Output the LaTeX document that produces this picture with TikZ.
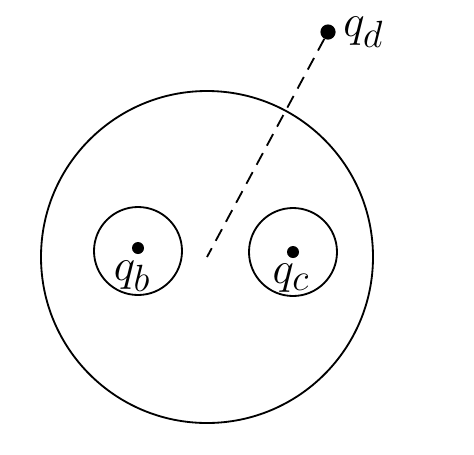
\documentclass[tikz,border=0pt]{standalone}
\usetikzlibrary{positioning}
\newcommand{\qlabel}[1]{\scalebox{1.3}{$#1$}}
\begin{document}
\begin{tikzpicture}[
    x=0.25mm, y=-0.25mm,
    shell/.style={circle, draw=black, line width=1.3pt, inner sep=0pt},
    charge/.style={circle, fill=black, inner sep=0pt, minimum size=3mm},
    chargelabel/.style={inner sep=0pt, font=\Huge},
]
    \useasboundingbox (0,0) rectangle (474,454);

    %Nodes
    \node[shell, minimum size=83mm] (outer) at (207,257) {};
    \node[shell, minimum size=22mm] (cavb) at (138,251) {};
    \node[shell, minimum size=22mm] (cavc) at (293,252) {};
    \node[charge] (qb) at (138,248) {};
    \node[charge] (qc) at (293,252) {};
    \node[charge, minimum size=3.8mm] (qd) at (328,32) {};
    \node[chargelabel, below=1.6mm of qb, xshift=-1.5mm] (lb) {\qlabel{q_b}};
    \node[chargelabel, below=1.4mm of qc, xshift=-0.5mm] (lc) {\qlabel{q_c}};
    \node[chargelabel, right=1.8mm of qd] (ld) {\qlabel{q_d}};

    %Lines
    \draw[line width=1.3pt, dash pattern=on 3.3mm off 2.1mm] (qd) -- (outer.center);
\end{tikzpicture}
\end{document}
